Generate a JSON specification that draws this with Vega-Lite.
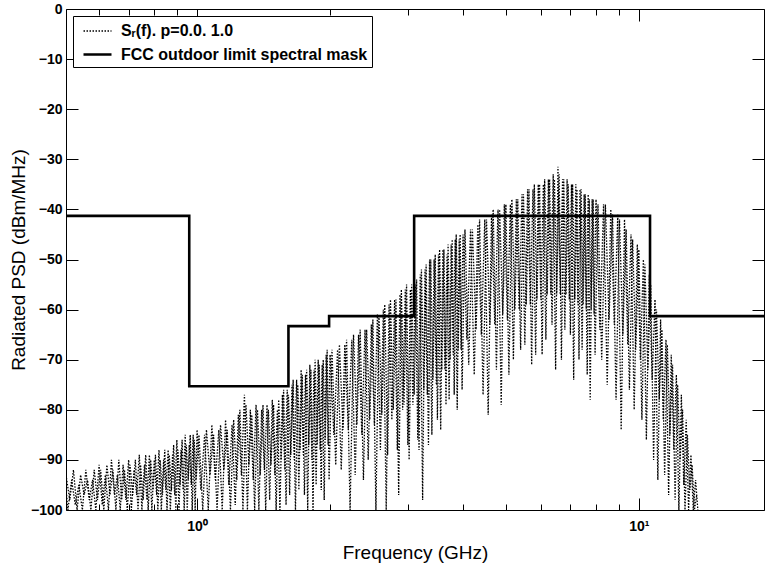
{
  "$schema": "https://vega.github.io/schema/vega-lite/v6.json",
  "width": 698,
  "height": 501,
  "autosize": {"type": "none"},
  "padding": {"left": 66, "top": 9, "right": 1, "bottom": 58},
  "background": "white",
  "config": {
    "view": {"stroke": null},
    "font": "Liberation Sans",
    "axis": {"domainColor": "black", "domainWidth": 1, "tickColor": "black", "tickWidth": 1, "labelColor": "black", "titleColor": "black", "grid": false, "labelFont": "Liberation Sans", "labelFontWeight": "bold", "labelFontSize": 14, "titleFont": "Liberation Sans", "titleFontWeight": "normal", "titleFontSize": 19},
    "legend": {"orient": "top-left", "offset": 7, "strokeColor": "black", "fillColor": "white", "padding": 4, "labelFont": "Liberation Sans", "labelFontSize": 16, "labelFontWeight": "bold", "labelColor": "black", "symbolType": "M-1.4,0H1.4", "symbolSize": 400, "symbolOffset": 9, "labelOffset": 12, "rowPadding": 4, "labelLimit": 400}
  },
  "datasets": {
    "sig": [
      {"run":"p=0.0","f":0.50,"p":-91},{"run":"p=0.0","f":0.51,"p":-100},{"run":"p=0.0","f":0.52,"p":-94},{"run":"p=0.0","f":0.53,"p":-99},{"run":"p=0.0","f":0.54,"p":-95},{"run":"p=0.0","f":0.55,"p":-100},{"run":"p=0.0","f":0.56,"p":-92},{"run":"p=0.0","f":0.57,"p":-98},{"run":"p=0.0","f":0.58,"p":-94},{"run":"p=0.0","f":0.59,"p":-100},
      {"run":"p=0.0","f":0.60,"p":-91},{"run":"p=0.0","f":0.61,"p":-99},{"run":"p=0.0","f":0.62,"p":-93},{"run":"p=0.0","f":0.63,"p":-100},{"run":"p=0.0","f":0.64,"p":-90},{"run":"p=0.0","f":0.65,"p":-97},{"run":"p=0.0","f":0.66,"p":-93},{"run":"p=0.0","f":0.67,"p":-100},{"run":"p=0.0","f":0.68,"p":-91},{"run":"p=0.0","f":0.69,"p":-98},
      {"run":"p=0.0","f":0.70,"p":-90},{"run":"p=0.0","f":0.71,"p":-100},{"run":"p=0.0","f":0.72,"p":-92},{"run":"p=0.0","f":0.73,"p":-97},{"run":"p=0.0","f":0.74,"p":-89},{"run":"p=0.0","f":0.75,"p":-100},{"run":"p=0.0","f":0.76,"p":-91},{"run":"p=0.0","f":0.77,"p":-98},{"run":"p=0.0","f":0.78,"p":-89},{"run":"p=0.0","f":0.79,"p":-100},
      {"run":"p=0.0","f":0.80,"p":-90},{"run":"p=0.0","f":0.81,"p":-97},{"run":"p=0.0","f":0.82,"p":-88},{"run":"p=0.0","f":0.83,"p":-100},{"run":"p=0.0","f":0.84,"p":-90},{"run":"p=0.0","f":0.85,"p":-96},{"run":"p=0.0","f":0.86,"p":-88},{"run":"p=0.0","f":0.87,"p":-100},{"run":"p=0.0","f":0.88,"p":-89},{"run":"p=0.0","f":0.89,"p":-97},
      {"run":"p=0.0","f":0.90,"p":-86},{"run":"p=0.0","f":0.91,"p":-100},{"run":"p=0.0","f":0.92,"p":-88},{"run":"p=0.0","f":0.93,"p":-96},{"run":"p=0.0","f":0.94,"p":-85},{"run":"p=0.0","f":0.95,"p":-100},{"run":"p=0.0","f":0.96,"p":-87},{"run":"p=0.0","f":0.97,"p":-95},{"run":"p=0.0","f":0.98,"p":-85},{"run":"p=0.0","f":0.99,"p":-100},
      {"run":"p=0.0","f":1.00,"p":-84},{"run":"p=0.0","f":1.02,"p":-96},{"run":"p=0.0","f":1.04,"p":-85},{"run":"p=0.0","f":1.06,"p":-100},{"run":"p=0.0","f":1.08,"p":-83},{"run":"p=0.0","f":1.10,"p":-94},{"run":"p=0.0","f":1.12,"p":-84},{"run":"p=0.0","f":1.14,"p":-100},{"run":"p=0.0","f":1.16,"p":-82},{"run":"p=0.0","f":1.18,"p":-95},
      {"run":"p=0.0","f":1.20,"p":-83},{"run":"p=0.0","f":1.22,"p":-99},{"run":"p=0.0","f":1.24,"p":-81},{"run":"p=0.0","f":1.26,"p":-93},{"run":"p=0.0","f":1.28,"p":-77},{"run":"p=0.0","f":1.30,"p":-100},{"run":"p=0.0","f":1.32,"p":-80},{"run":"p=0.0","f":1.34,"p":-94},{"run":"p=0.0","f":1.36,"p":-79},{"run":"p=0.0","f":1.38,"p":-100},
      {"run":"p=0.0","f":1.40,"p":-80},{"run":"p=0.0","f":1.42,"p":-92},{"run":"p=0.0","f":1.44,"p":-79},{"run":"p=0.0","f":1.46,"p":-98},{"run":"p=0.0","f":1.48,"p":-78},{"run":"p=0.0","f":1.50,"p":-93},{"run":"p=0.0","f":1.52,"p":-80},{"run":"p=0.0","f":1.54,"p":-100},{"run":"p=0.0","f":1.56,"p":-77},{"run":"p=0.0","f":1.58,"p":-92},
      {"run":"p=0.0","f":1.60,"p":-76},{"run":"p=0.0","f":1.62,"p":-97},{"run":"p=0.0","f":1.64,"p":-75},{"run":"p=0.0","f":1.66,"p":-90},{"run":"p=0.0","f":1.68,"p":-74},{"run":"p=0.0","f":1.70,"p":-96},{"run":"p=0.0","f":1.72,"p":-72},{"run":"p=0.0","f":1.74,"p":-89},{"run":"p=0.0","f":1.76,"p":-73},{"run":"p=0.0","f":1.78,"p":-100},
      {"run":"p=0.0","f":1.80,"p":-71},{"run":"p=0.0","f":1.82,"p":-90},{"run":"p=0.0","f":1.84,"p":-72},{"run":"p=0.0","f":1.86,"p":-95},{"run":"p=0.0","f":1.88,"p":-70},{"run":"p=0.0","f":1.90,"p":-88},{"run":"p=0.0","f":1.92,"p":-71},{"run":"p=0.0","f":1.94,"p":-98},{"run":"p=0.0","f":1.96,"p":-69},{"run":"p=0.0","f":1.98,"p":-87},
      {"run":"p=0.0","f":2.00,"p":-69},{"run":"p=0.0","f":2.04,"p":-85},{"run":"p=0.0","f":2.08,"p":-68},{"run":"p=0.0","f":2.12,"p":-92},{"run":"p=0.0","f":2.16,"p":-67},{"run":"p=0.0","f":2.20,"p":-84},{"run":"p=0.0","f":2.24,"p":-66},{"run":"p=0.0","f":2.28,"p":-93},{"run":"p=0.0","f":2.32,"p":-65},{"run":"p=0.0","f":2.36,"p":-85},
      {"run":"p=0.0","f":2.40,"p":-64},{"run":"p=0.0","f":2.44,"p":-90},{"run":"p=0.0","f":2.48,"p":-63},{"run":"p=0.0","f":2.52,"p":-83},{"run":"p=0.0","f":2.56,"p":-61},{"run":"p=0.0","f":2.60,"p":-88},{"run":"p=0.0","f":2.64,"p":-60},{"run":"p=0.0","f":2.68,"p":-100},{"run":"p=0.0","f":2.72,"p":-59},{"run":"p=0.0","f":2.76,"p":-82},
      {"run":"p=0.0","f":2.80,"p":-58},{"run":"p=0.0","f":2.84,"p":-88},{"run":"p=0.0","f":2.88,"p":-57},{"run":"p=0.0","f":2.92,"p":-80},{"run":"p=0.0","f":2.96,"p":-56},{"run":"p=0.0","f":3.00,"p":-87},{"run":"p=0.0","f":3.04,"p":-56},{"run":"p=0.0","f":3.08,"p":-79},{"run":"p=0.0","f":3.12,"p":-55},{"run":"p=0.0","f":3.16,"p":-86},
      {"run":"p=0.0","f":3.20,"p":-53},{"run":"p=0.0","f":3.24,"p":-98},{"run":"p=0.0","f":3.28,"p":-52},{"run":"p=0.0","f":3.32,"p":-77},{"run":"p=0.0","f":3.36,"p":-50},{"run":"p=0.0","f":3.40,"p":-85},{"run":"p=0.0","f":3.44,"p":-50},{"run":"p=0.0","f":3.48,"p":-75},{"run":"p=0.0","f":3.52,"p":-49},{"run":"p=0.0","f":3.56,"p":-84},
      {"run":"p=0.0","f":3.60,"p":-48},{"run":"p=0.0","f":3.64,"p":-72},{"run":"p=0.0","f":3.68,"p":-49},{"run":"p=0.0","f":3.72,"p":-78},{"run":"p=0.0","f":3.76,"p":-47},{"run":"p=0.0","f":3.80,"p":-69},{"run":"p=0.0","f":3.84,"p":-46},{"run":"p=0.0","f":3.88,"p":-80},{"run":"p=0.0","f":3.92,"p":-46},{"run":"p=0.0","f":3.96,"p":-68},
      {"run":"p=0.0","f":4.00,"p":-45},{"run":"p=0.0","f":4.08,"p":-66},{"run":"p=0.0","f":4.16,"p":-44},{"run":"p=0.0","f":4.24,"p":-73},{"run":"p=0.0","f":4.32,"p":-43},{"run":"p=0.0","f":4.40,"p":-65},{"run":"p=0.0","f":4.48,"p":-42},{"run":"p=0.0","f":4.56,"p":-81},{"run":"p=0.0","f":4.64,"p":-41},{"run":"p=0.0","f":4.72,"p":-63},
      {"run":"p=0.0","f":4.80,"p":-40},{"run":"p=0.0","f":4.88,"p":-79},{"run":"p=0.0","f":4.96,"p":-39},{"run":"p=0.0","f":5.04,"p":-62},{"run":"p=0.0","f":5.12,"p":-39},{"run":"p=0.0","f":5.20,"p":-70},{"run":"p=0.0","f":5.28,"p":-38},{"run":"p=0.0","f":5.36,"p":-60},{"run":"p=0.0","f":5.44,"p":-37},{"run":"p=0.0","f":5.52,"p":-67},
      {"run":"p=0.0","f":5.60,"p":-36},{"run":"p=0.0","f":5.68,"p":-59},{"run":"p=0.0","f":5.76,"p":-36},{"run":"p=0.0","f":5.84,"p":-69},{"run":"p=0.0","f":5.92,"p":-35},{"run":"p=0.0","f":6.00,"p":-58},{"run":"p=0.0","f":6.08,"p":-35},{"run":"p=0.0","f":6.16,"p":-66},{"run":"p=0.0","f":6.24,"p":-34},{"run":"p=0.0","f":6.32,"p":-57},
      {"run":"p=0.0","f":6.40,"p":-33},{"run":"p=0.0","f":6.48,"p":-72},{"run":"p=0.0","f":6.56,"p":-31.5},{"run":"p=0.0","f":6.64,"p":-57},{"run":"p=0.0","f":6.72,"p":-34},{"run":"p=0.0","f":6.80,"p":-64},{"run":"p=0.0","f":6.88,"p":-34},{"run":"p=0.0","f":6.96,"p":-58},{"run":"p=0.0","f":7.04,"p":-35},{"run":"p=0.0","f":7.12,"p":-74},
      {"run":"p=0.0","f":7.20,"p":-35},{"run":"p=0.0","f":7.28,"p":-59},{"run":"p=0.0","f":7.36,"p":-36},{"run":"p=0.0","f":7.44,"p":-68},{"run":"p=0.0","f":7.52,"p":-37},{"run":"p=0.0","f":7.60,"p":-60},{"run":"p=0.0","f":7.68,"p":-37},{"run":"p=0.0","f":7.76,"p":-78},{"run":"p=0.0","f":7.84,"p":-38},{"run":"p=0.0","f":7.92,"p":-61},
      {"run":"p=0.0","f":8.00,"p":-38},{"run":"p=0.0","f":8.16,"p":-64},{"run":"p=0.0","f":8.32,"p":-39},{"run":"p=0.0","f":8.48,"p":-75},{"run":"p=0.0","f":8.64,"p":-40},{"run":"p=0.0","f":8.80,"p":-63},{"run":"p=0.0","f":8.96,"p":-41},{"run":"p=0.0","f":9.12,"p":-84},{"run":"p=0.0","f":9.28,"p":-42},{"run":"p=0.0","f":9.44,"p":-67},
      {"run":"p=0.0","f":9.60,"p":-45},{"run":"p=0.0","f":9.76,"p":-80},{"run":"p=0.0","f":9.92,"p":-47},{"run":"p=0.0","f":10.08,"p":-70},{"run":"p=0.0","f":10.24,"p":-50},{"run":"p=0.0","f":10.40,"p":-86},{"run":"p=0.0","f":10.56,"p":-53},{"run":"p=0.0","f":10.72,"p":-74},{"run":"p=0.0","f":10.88,"p":-58},{"run":"p=0.0","f":11.04,"p":-94},
      {"run":"p=0.0","f":11.20,"p":-62},{"run":"p=0.0","f":11.36,"p":-82},{"run":"p=0.0","f":11.52,"p":-66},{"run":"p=0.0","f":11.68,"p":-97},{"run":"p=0.0","f":11.84,"p":-69},{"run":"p=0.0","f":12.00,"p":-88},{"run":"p=0.0","f":12.16,"p":-73},{"run":"p=0.0","f":12.32,"p":-100},{"run":"p=0.0","f":12.48,"p":-77},{"run":"p=0.0","f":12.64,"p":-95},
      {"run":"p=0.0","f":12.80,"p":-82},{"run":"p=0.0","f":12.96,"p":-100},{"run":"p=0.0","f":13.12,"p":-89},{"run":"p=0.0","f":13.28,"p":-100},{"run":"p=0.0","f":13.44,"p":-94},{"run":"p=0.0","f":13.60,"p":-100},

      {"run":"p=1.0","f":0.505,"p":-93},{"run":"p=1.0","f":0.515,"p":-98},{"run":"p=1.0","f":0.525,"p":-92},{"run":"p=1.0","f":0.535,"p":-100},{"run":"p=1.0","f":0.545,"p":-93},{"run":"p=1.0","f":0.555,"p":-97},{"run":"p=1.0","f":0.565,"p":-94},{"run":"p=1.0","f":0.575,"p":-100},{"run":"p=1.0","f":0.585,"p":-92},{"run":"p=1.0","f":0.595,"p":-98},
      {"run":"p=1.0","f":0.605,"p":-92},{"run":"p=1.0","f":0.615,"p":-100},{"run":"p=1.0","f":0.625,"p":-91},{"run":"p=1.0","f":0.635,"p":-97},{"run":"p=1.0","f":0.645,"p":-92},{"run":"p=1.0","f":0.655,"p":-100},{"run":"p=1.0","f":0.665,"p":-90},{"run":"p=1.0","f":0.675,"p":-98},{"run":"p=1.0","f":0.685,"p":-92},{"run":"p=1.0","f":0.695,"p":-100},
      {"run":"p=1.0","f":0.705,"p":-91},{"run":"p=1.0","f":0.715,"p":-97},{"run":"p=1.0","f":0.725,"p":-90},{"run":"p=1.0","f":0.735,"p":-100},{"run":"p=1.0","f":0.745,"p":-91},{"run":"p=1.0","f":0.755,"p":-98},{"run":"p=1.0","f":0.765,"p":-89},{"run":"p=1.0","f":0.775,"p":-100},{"run":"p=1.0","f":0.785,"p":-90},{"run":"p=1.0","f":0.795,"p":-96},
      {"run":"p=1.0","f":0.805,"p":-89},{"run":"p=1.0","f":0.815,"p":-100},{"run":"p=1.0","f":0.825,"p":-90},{"run":"p=1.0","f":0.835,"p":-97},{"run":"p=1.0","f":0.845,"p":-88},{"run":"p=1.0","f":0.855,"p":-100},{"run":"p=1.0","f":0.865,"p":-89},{"run":"p=1.0","f":0.875,"p":-96},{"run":"p=1.0","f":0.885,"p":-87},{"run":"p=1.0","f":0.895,"p":-100},
      {"run":"p=1.0","f":0.905,"p":-88},{"run":"p=1.0","f":0.915,"p":-95},{"run":"p=1.0","f":0.925,"p":-86},{"run":"p=1.0","f":0.935,"p":-100},{"run":"p=1.0","f":0.945,"p":-87},{"run":"p=1.0","f":0.955,"p":-94},{"run":"p=1.0","f":0.965,"p":-85},{"run":"p=1.0","f":0.975,"p":-100},{"run":"p=1.0","f":0.985,"p":-86},{"run":"p=1.0","f":0.995,"p":-94},
      {"run":"p=1.0","f":1.01,"p":-85},{"run":"p=1.0","f":1.03,"p":-100},{"run":"p=1.0","f":1.05,"p":-84},{"run":"p=1.0","f":1.07,"p":-93},{"run":"p=1.0","f":1.09,"p":-85},{"run":"p=1.0","f":1.11,"p":-100},{"run":"p=1.0","f":1.13,"p":-83},{"run":"p=1.0","f":1.15,"p":-92},{"run":"p=1.0","f":1.17,"p":-84},{"run":"p=1.0","f":1.19,"p":-100},
      {"run":"p=1.0","f":1.21,"p":-82},{"run":"p=1.0","f":1.23,"p":-94},{"run":"p=1.0","f":1.25,"p":-80},{"run":"p=1.0","f":1.27,"p":-100},{"run":"p=1.0","f":1.29,"p":-79},{"run":"p=1.0","f":1.31,"p":-91},{"run":"p=1.0","f":1.33,"p":-81},{"run":"p=1.0","f":1.35,"p":-100},{"run":"p=1.0","f":1.37,"p":-80},{"run":"p=1.0","f":1.39,"p":-93},
      {"run":"p=1.0","f":1.41,"p":-79},{"run":"p=1.0","f":1.43,"p":-100},{"run":"p=1.0","f":1.45,"p":-80},{"run":"p=1.0","f":1.47,"p":-91},{"run":"p=1.0","f":1.49,"p":-79},{"run":"p=1.0","f":1.51,"p":-100},{"run":"p=1.0","f":1.53,"p":-78},{"run":"p=1.0","f":1.55,"p":-90},{"run":"p=1.0","f":1.57,"p":-76},{"run":"p=1.0","f":1.59,"p":-99},
      {"run":"p=1.0","f":1.61,"p":-77},{"run":"p=1.0","f":1.63,"p":-89},{"run":"p=1.0","f":1.65,"p":-74},{"run":"p=1.0","f":1.67,"p":-100},{"run":"p=1.0","f":1.69,"p":-75},{"run":"p=1.0","f":1.71,"p":-88},{"run":"p=1.0","f":1.73,"p":-73},{"run":"p=1.0","f":1.75,"p":-97},{"run":"p=1.0","f":1.77,"p":-72},{"run":"p=1.0","f":1.79,"p":-87},
      {"run":"p=1.0","f":1.81,"p":-72},{"run":"p=1.0","f":1.83,"p":-100},{"run":"p=1.0","f":1.85,"p":-70},{"run":"p=1.0","f":1.87,"p":-87},{"run":"p=1.0","f":1.89,"p":-71},{"run":"p=1.0","f":1.91,"p":-96},{"run":"p=1.0","f":1.93,"p":-70},{"run":"p=1.0","f":1.95,"p":-86},{"run":"p=1.0","f":1.97,"p":-68},{"run":"p=1.0","f":1.99,"p":-94},
      {"run":"p=1.0","f":2.02,"p":-68},{"run":"p=1.0","f":2.06,"p":-91},{"run":"p=1.0","f":2.10,"p":-67},{"run":"p=1.0","f":2.14,"p":-84},{"run":"p=1.0","f":2.18,"p":-66},{"run":"p=1.0","f":2.22,"p":-100},{"run":"p=1.0","f":2.26,"p":-65},{"run":"p=1.0","f":2.30,"p":-83},{"run":"p=1.0","f":2.34,"p":-64},{"run":"p=1.0","f":2.38,"p":-94},
      {"run":"p=1.0","f":2.42,"p":-64},{"run":"p=1.0","f":2.46,"p":-82},{"run":"p=1.0","f":2.50,"p":-62},{"run":"p=1.0","f":2.54,"p":-100},{"run":"p=1.0","f":2.58,"p":-61},{"run":"p=1.0","f":2.62,"p":-81},{"run":"p=1.0","f":2.66,"p":-59},{"run":"p=1.0","f":2.70,"p":-89},{"run":"p=1.0","f":2.74,"p":-58},{"run":"p=1.0","f":2.78,"p":-80},
      {"run":"p=1.0","f":2.82,"p":-58},{"run":"p=1.0","f":2.86,"p":-97},{"run":"p=1.0","f":2.90,"p":-56},{"run":"p=1.0","f":2.94,"p":-79},{"run":"p=1.0","f":2.98,"p":-55},{"run":"p=1.0","f":3.02,"p":-90},{"run":"p=1.0","f":3.06,"p":-55},{"run":"p=1.0","f":3.10,"p":-77},{"run":"p=1.0","f":3.14,"p":-54},{"run":"p=1.0","f":3.18,"p":-88},
      {"run":"p=1.0","f":3.22,"p":-52},{"run":"p=1.0","f":3.26,"p":-76},{"run":"p=1.0","f":3.30,"p":-51},{"run":"p=1.0","f":3.34,"p":-87},{"run":"p=1.0","f":3.38,"p":-50},{"run":"p=1.0","f":3.42,"p":-74},{"run":"p=1.0","f":3.46,"p":-49},{"run":"p=1.0","f":3.50,"p":-82},{"run":"p=1.0","f":3.54,"p":-48},{"run":"p=1.0","f":3.58,"p":-72},
      {"run":"p=1.0","f":3.62,"p":-48},{"run":"p=1.0","f":3.66,"p":-79},{"run":"p=1.0","f":3.70,"p":-47},{"run":"p=1.0","f":3.74,"p":-70},{"run":"p=1.0","f":3.78,"p":-46},{"run":"p=1.0","f":3.82,"p":-77},{"run":"p=1.0","f":3.86,"p":-45},{"run":"p=1.0","f":3.90,"p":-68},{"run":"p=1.0","f":3.94,"p":-45},{"run":"p=1.0","f":3.98,"p":-76},
      {"run":"p=1.0","f":4.04,"p":-44},{"run":"p=1.0","f":4.12,"p":-71},{"run":"p=1.0","f":4.20,"p":-44},{"run":"p=1.0","f":4.28,"p":-64},{"run":"p=1.0","f":4.36,"p":-42},{"run":"p=1.0","f":4.44,"p":-77},{"run":"p=1.0","f":4.52,"p":-42},{"run":"p=1.0","f":4.60,"p":-63},{"run":"p=1.0","f":4.68,"p":-40},{"run":"p=1.0","f":4.76,"p":-72},
      {"run":"p=1.0","f":4.84,"p":-40},{"run":"p=1.0","f":4.92,"p":-61},{"run":"p=1.0","f":5.00,"p":-39},{"run":"p=1.0","f":5.08,"p":-73},{"run":"p=1.0","f":5.16,"p":-38},{"run":"p=1.0","f":5.24,"p":-60},{"run":"p=1.0","f":5.32,"p":-38},{"run":"p=1.0","f":5.40,"p":-68},{"run":"p=1.0","f":5.48,"p":-37},{"run":"p=1.0","f":5.56,"p":-59},
      {"run":"p=1.0","f":5.64,"p":-36},{"run":"p=1.0","f":5.72,"p":-71},{"run":"p=1.0","f":5.80,"p":-35},{"run":"p=1.0","f":5.88,"p":-58},{"run":"p=1.0","f":5.96,"p":-35},{"run":"p=1.0","f":6.04,"p":-69},{"run":"p=1.0","f":6.12,"p":-34},{"run":"p=1.0","f":6.20,"p":-57},{"run":"p=1.0","f":6.28,"p":-34},{"run":"p=1.0","f":6.36,"p":-63},
      {"run":"p=1.0","f":6.44,"p":-34},{"run":"p=1.0","f":6.52,"p":-57},{"run":"p=1.0","f":6.60,"p":-33},{"run":"p=1.0","f":6.68,"p":-70},{"run":"p=1.0","f":6.76,"p":-34},{"run":"p=1.0","f":6.84,"p":-57},{"run":"p=1.0","f":6.92,"p":-35},{"run":"p=1.0","f":7.00,"p":-65},{"run":"p=1.0","f":7.08,"p":-35},{"run":"p=1.0","f":7.16,"p":-58},
      {"run":"p=1.0","f":7.24,"p":-36},{"run":"p=1.0","f":7.32,"p":-70},{"run":"p=1.0","f":7.40,"p":-36},{"run":"p=1.0","f":7.48,"p":-59},{"run":"p=1.0","f":7.56,"p":-37},{"run":"p=1.0","f":7.64,"p":-73},{"run":"p=1.0","f":7.72,"p":-38},{"run":"p=1.0","f":7.80,"p":-60},{"run":"p=1.0","f":7.88,"p":-38},{"run":"p=1.0","f":7.96,"p":-69},
      {"run":"p=1.0","f":8.08,"p":-39},{"run":"p=1.0","f":8.24,"p":-70},{"run":"p=1.0","f":8.40,"p":-39},{"run":"p=1.0","f":8.56,"p":-62},{"run":"p=1.0","f":8.72,"p":-41},{"run":"p=1.0","f":8.88,"p":-78},{"run":"p=1.0","f":9.04,"p":-42},{"run":"p=1.0","f":9.20,"p":-65},{"run":"p=1.0","f":9.36,"p":-44},{"run":"p=1.0","f":9.52,"p":-76},
      {"run":"p=1.0","f":9.68,"p":-46},{"run":"p=1.0","f":9.84,"p":-68},{"run":"p=1.0","f":10.00,"p":-48},{"run":"p=1.0","f":10.16,"p":-82},{"run":"p=1.0","f":10.32,"p":-51},{"run":"p=1.0","f":10.48,"p":-72},{"run":"p=1.0","f":10.64,"p":-55},{"run":"p=1.0","f":10.80,"p":-90},{"run":"p=1.0","f":10.96,"p":-60},{"run":"p=1.0","f":11.12,"p":-78},
      {"run":"p=1.0","f":11.28,"p":-64},{"run":"p=1.0","f":11.44,"p":-93},{"run":"p=1.0","f":11.60,"p":-67},{"run":"p=1.0","f":11.76,"p":-85},{"run":"p=1.0","f":11.92,"p":-71},{"run":"p=1.0","f":12.08,"p":-98},{"run":"p=1.0","f":12.24,"p":-75},{"run":"p=1.0","f":12.40,"p":-90},{"run":"p=1.0","f":12.56,"p":-80},{"run":"p=1.0","f":12.72,"p":-100},
      {"run":"p=1.0","f":12.88,"p":-85},{"run":"p=1.0","f":13.04,"p":-96},{"run":"p=1.0","f":13.20,"p":-91},{"run":"p=1.0","f":13.36,"p":-100},{"run":"p=1.0","f":13.52,"p":-97}
    ],
    "mask": [
      {"i":1,"f":0.505,"p":-41.3},{"i":2,"f":0.96,"p":-41.3},{"i":3,"f":0.96,"p":-75.3},{"i":4,"f":1.61,"p":-75.3},
      {"i":5,"f":1.61,"p":-63.3},{"i":6,"f":1.99,"p":-63.3},{"i":7,"f":1.99,"p":-61.3},{"i":8,"f":3.1,"p":-61.3},
      {"i":9,"f":3.1,"p":-41.3},{"i":10,"f":10.6,"p":-41.3},{"i":11,"f":10.6,"p":-61.3},{"i":12,"f":19.2,"p":-61.3}
    ]
  },
  "layer": [
    {
      "data": {"name": "sig"},
      "mark": {"type": "line", "clip": true},
      "encoding": {
        "x": {"field": "f", "type": "quantitative", "scale": {"type": "log", "domain": [0.505, 19.2], "nice": false},
              "axis": {"orient": "top", "values": [0.6,0.7,0.8,0.9,1,2,3,4,5,6,7,8,9,10], "labels": false, "title": null,
                       "tickSize": {"condition": {"test": "datum.value == 1 || datum.value == 10", "value": -12}, "value": -6}}},
        "y": {"field": "p", "type": "quantitative", "scale": {"domain": [-100, 0], "nice": false},
              "axis": {"orient": "right", "values": [-100,-90,-80,-70,-60,-50,-40,-30,-20,-10,0], "labels": false, "title": null, "tickSize": -12}},
        "detail": {"field": "run", "type": "nominal"},
        "color": {"datum": "Sᵣ(f). p=0.0. 1.0", "type": "nominal", "scale": {"domain": ["Sᵣ(f). p=0.0. 1.0", "FCC outdoor limit spectral mask"], "range": ["black", "black"]}, "legend": {"title": null}},
        "strokeDash": {"datum": "Sᵣ(f). p=0.0. 1.0", "type": "nominal", "scale": {"domain": ["Sᵣ(f). p=0.0. 1.0", "FCC outdoor limit spectral mask"], "range": [[1.5, 1.5], [1, 0]]}, "legend": {"title": null}},
        "strokeWidth": {"datum": "Sᵣ(f). p=0.0. 1.0", "type": "nominal", "scale": {"domain": ["Sᵣ(f). p=0.0. 1.0", "FCC outdoor limit spectral mask"], "range": [1.3, 2.6]}, "legend": {"title": null}}
      }
    },
    {
      "data": {"name": "mask"},
      "mark": {"type": "line", "clip": true},
      "encoding": {
        "x": {"field": "f", "type": "quantitative", "scale": {"type": "log", "domain": [0.505, 19.2], "nice": false},
              "axis": {"orient": "bottom", "values": [0.6,0.7,0.8,0.9,1,2,3,4,5,6,7,8,9,10], "labelExpr": "datum.value == 1 ? '10⁰' : datum.value == 10 ? '10¹' : ''",
                       "labelOverlap": false, "labelFlush": false, "labelPadding": 21, "title": "Frequency (GHz)", "titlePadding": 4,
                       "tickSize": {"condition": {"test": "datum.value == 1 || datum.value == 10", "value": -12}, "value": -6}}},
        "y": {"field": "p", "type": "quantitative", "scale": {"domain": [-100, 0], "nice": false},
              "axis": {"orient": "left", "values": [-100,-90,-80,-70,-60,-50,-40,-30,-20,-10,0], "labelPadding": 16, "title": "Radiated PSD (dBm/MHz)", "titlePadding": 2, "tickSize": -12}},
        "order": {"field": "i", "type": "quantitative"},
        "color": {"datum": "FCC outdoor limit spectral mask", "type": "nominal"},
        "strokeDash": {"datum": "FCC outdoor limit spectral mask", "type": "nominal"},
        "strokeWidth": {"datum": "FCC outdoor limit spectral mask", "type": "nominal"}
      }
    }
  ],
  "resolve": {"axis": {"x": "independent", "y": "independent"}}
}
